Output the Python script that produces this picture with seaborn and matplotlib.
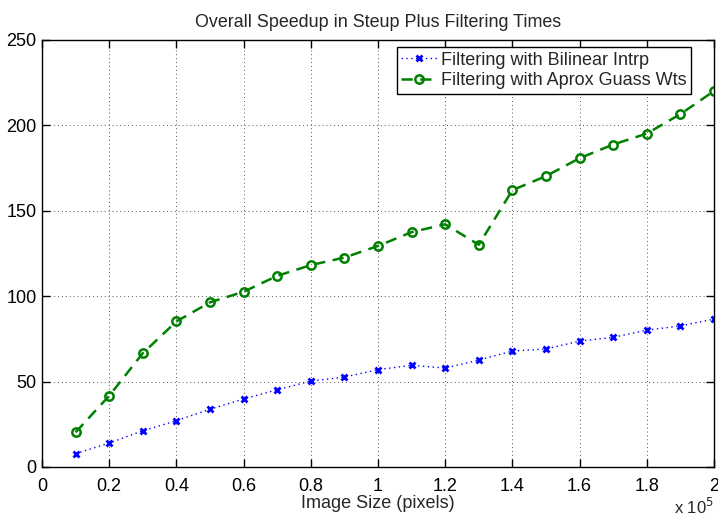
import matplotlib
matplotlib.use("Agg")
import matplotlib.pyplot as plt
from matplotlib.ticker import FuncFormatter, MultipleLocator
import seaborn as sns
import pandas as pd

# Image sizes (pixels) and measured speedups
image_size = [10000, 20000, 30000, 40000, 50000, 60000, 70000, 80000, 90000, 100000,
              110000, 120000, 130000, 140000, 150000, 160000, 170000, 180000, 190000, 200000]
speedup_bilinear = [7.8, 14.0, 21.2, 27.1, 33.8, 39.8, 45.2, 50.3, 52.6, 57.0,
                    59.5, 57.9, 62.6, 67.9, 69.1, 73.7, 75.9, 80.1, 82.6, 86.6]
speedup_gauss = [20.3, 41.7, 66.6, 85.2, 96.4, 102.6, 111.9, 118.2, 122.6, 129.4,
                 137.5, 142.1, 130.1, 162.1, 170.3, 180.8, 188.8, 195.2, 206.6, 220.1]

label_bilinear = "Filtering with Bilinear Intrp"
label_gauss = "Filtering with Aprox Guass Wts"

df = pd.DataFrame({"size": image_size,
                   "bilinear": speedup_bilinear,
                   "gauss": speedup_gauss})

sns.set_theme(style="white")
plt.rcParams["font.family"] = ["Liberation Sans", "DejaVu Sans"]
plt.rcParams["xtick.direction"] = "in"
plt.rcParams["ytick.direction"] = "in"

fig = plt.figure(figsize=(7.18, 5.18), dpi=100)
ax = fig.add_axes([0.0585, 0.0985, 0.9359, 0.8243])

sns.lineplot(data=df, x="size", y="bilinear", ax=ax, color="#0000ff",
             linestyle=(0, (1, 2.5)), linewidth=1.0, marker="x", markersize=4.5,
             markeredgecolor="#0000ff", markeredgewidth=2.0, label=label_bilinear)
sns.lineplot(data=df, x="size", y="gauss", ax=ax, color="#008000",
             linestyle=(0, (4.5, 3)), linewidth=1.8, marker="o", markersize=6,
             markerfacecolor="none", markeredgecolor="#008000",
             markeredgewidth=1.8, label=label_gauss)

ax.set_xlim(0, 200000)
ax.set_ylim(0, 250)
ax.xaxis.set_major_locator(MultipleLocator(20000))
ax.yaxis.set_major_locator(MultipleLocator(50))
ax.xaxis.set_major_formatter(FuncFormatter(lambda v, p: f"{v / 1e5:g}"))

ax.grid(True, color="#555555", linestyle=(0, (1, 3)), linewidth=0.7)
for s in ax.spines.values():
    s.set_visible(True)
    s.set_color("black")
    s.set_linewidth(1.0)
ax.tick_params(axis="both", which="major", direction="in", length=6, width=1,
               colors="black", labelsize=13, top=True, right=True,
               bottom=True, left=True)
ax.tick_params(axis="x", pad=8)
ax.tick_params(axis="y", pad=4)

ax.set_title("Overall Speedup in Steup Plus Filtering Times", fontsize=12.9, pad=9)
ax.set_xlabel("Image Size (pixels)", fontsize=13, labelpad=0)
ax.set_ylabel("")
ax.text(1.0, -0.07, r"x 10$^{5}$", transform=ax.transAxes, ha="right", va="top",
        fontsize=12)

leg = ax.legend(loc="upper right", bbox_to_anchor=(691 / 718, 1 - 47 / 518),
                bbox_transform=fig.transFigure, fontsize=13, frameon=True,
                fancybox=False, edgecolor="black", framealpha=1, borderaxespad=0,
                handlelength=2.0, handletextpad=0.2, borderpad=0.25, labelspacing=0.2)
leg.get_frame().set_linewidth(1.0)

fig.savefig("out.png", dpi=100)
